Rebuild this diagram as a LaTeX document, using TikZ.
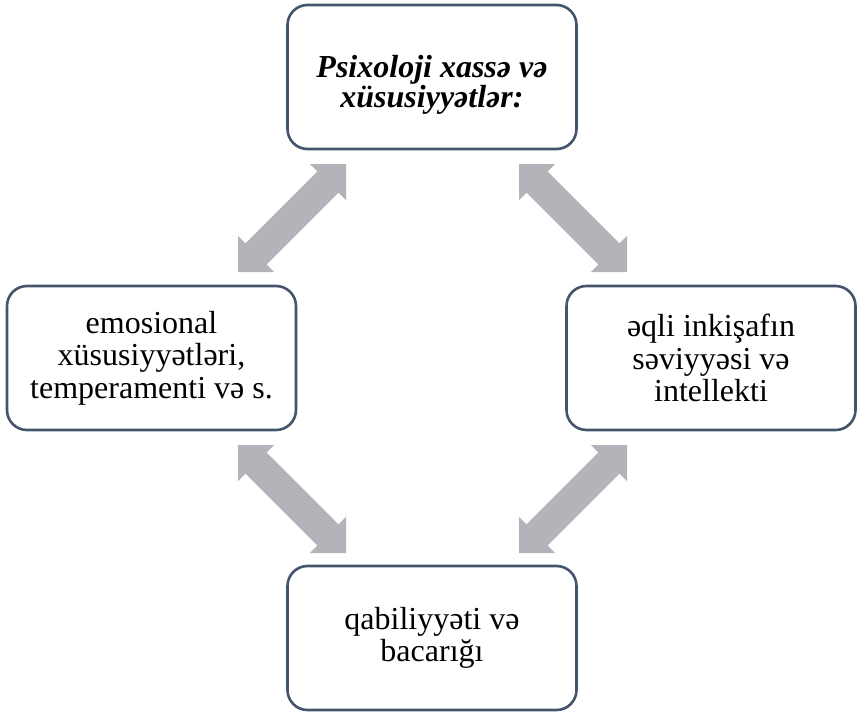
\documentclass[tikz,border=0pt]{standalone}
\usepackage{fontspec}
\setmainfont{Liberation Serif}
\usetikzlibrary{calc}
\definecolor{boxline}{HTML}{44546A}
\definecolor{arrowgray}{HTML}{B2B4BA}
\tikzset{
  box/.style={draw=boxline, line width=2.6pt, rounded corners=20pt,
    minimum width=289pt, minimum height=144pt, align=center,
    font=\fontsize{32}{32.5}\selectfont, inner sep=0pt},
  bigarrow/.style={fill=arrowgray, draw=none},
}
% double block arrow between two named coordinates
\newcommand\dblarrow[2]{%
  \path[bigarrow] (#1)
    -- ($(#1)!25.5pt!(#2)!25.5pt!90:(#2)$)
    -- ($(#1)!25.5pt!(#2)!15pt!90:(#2)$)
    -- ($(#2)!25.5pt!(#1)!15pt!-90:(#1)$)
    -- ($(#2)!25.5pt!(#1)!25.5pt!-90:(#1)$)
    -- (#2)
    -- ($(#2)!25.5pt!(#1)!25.5pt!90:(#1)$)
    -- ($(#2)!25.5pt!(#1)!15pt!90:(#1)$)
    -- ($(#1)!25.5pt!(#2)!15pt!-90:(#2)$)
    -- ($(#1)!25.5pt!(#2)!25.5pt!-90:(#2)$)
    -- cycle;}
\begin{document}
\begin{tikzpicture}[x=1pt,y=-1pt]
\useasboundingbox (0,0) rectangle (857,713);
\node[box, font=\fontsize{32}{27}\selectfont\bfseries\itshape] (top) at (432,77) {\rule{0pt}{38pt}Psixoloji xassə və\\xüsusiyyətlər:};
\node[box] (left) at (151.5,358) {emosional\\xüsusiyyətləri,\\temperamenti və s.};
\node[box] (right) at (711,358) {əqli inkişafın\\səviyyəsi və\\intellekti};
\node[box] (bottom) at (432,638) {qabiliyyəti və\\bacarığı};
\coordinate (a1s) at (346,164); \coordinate (a1e) at (238,272);
\coordinate (a2s) at (519,164); \coordinate (a2e) at (627,272);
\coordinate (a3s) at (238,445); \coordinate (a3e) at (346,553);
\coordinate (a4s) at (627,445); \coordinate (a4e) at (519,553);
\dblarrow{a1s}{a1e}
\dblarrow{a2s}{a2e}
\dblarrow{a3s}{a3e}
\dblarrow{a4s}{a4e}
\end{tikzpicture}
\end{document}
